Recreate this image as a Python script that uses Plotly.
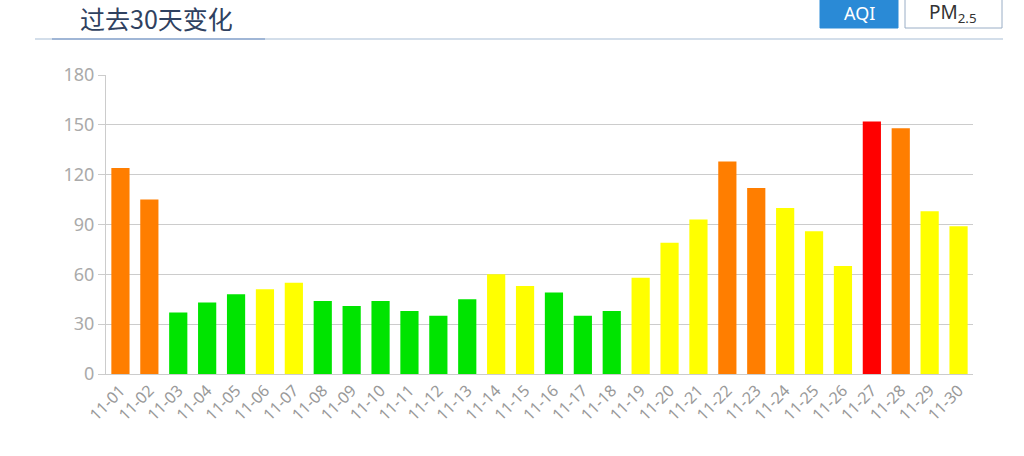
import plotly.graph_objects as go

dates = ["11-%02d" % d for d in range(1, 31)]
aqi = [124, 105, 37, 43, 48, 51, 55, 44, 41, 44, 38, 35, 45, 60, 53, 49, 35, 38, 58, 79,
       93, 128, 112, 100, 86, 65, 152, 148, 98, 89]
levels = ["o", "o", "g", "g", "g", "y", "y", "g", "g", "g", "g", "g", "g", "y", "y", "g", "g", "g", "y", "y",
          "y", "o", "o", "y", "y", "y", "r", "o", "y", "y"]
level_colors = {"g": "#00e400", "y": "#ffff00", "o": "#ff7e00", "r": "#ff0000"}
y_ticks = [0, 30, 60, 90, 120, 150, 180]

W, H = 1024, 456
L, T, R, B = 106, 75, 1024 - 973, 456 - 374
PW, PH = W - L - R, H - T - B


def px(x):
    return (x - L) / PW


def py(y):
    return 1 + (T - y) / PH


fig = go.Figure()
fig.add_trace(go.Bar(x=dates, y=aqi, marker=dict(color=[level_colors[l] for l in levels], line=dict(width=0)),
                     hoverinfo="x+y"))

fig.update_layout(
    width=W, height=H,
    margin=dict(l=L, r=R, t=T, b=B, autoexpand=False),
    paper_bgcolor="white", plot_bgcolor="white",
    bargap=0.37, showlegend=False,
    font=dict(family="Noto Sans, Open Sans, sans-serif", color="#999999"),
    xaxis=dict(type="category", tickangle=-45, tickfont=dict(size=16, color="#999999"), showline=True,
               linecolor="#cccccc", linewidth=1, ticks="", showgrid=False, fixedrange=True, automargin=False),
    yaxis=dict(range=[0, 180], tickvals=y_ticks, tickfont=dict(size=18, color="#aaaaaa"), showline=True,
               linecolor="#cccccc", linewidth=1, ticks="outside", ticklen=7, tickcolor="#cccccc",
               gridcolor="#cccccc", gridwidth=1, zeroline=False, fixedrange=True, automargin=False),
    shapes=[
        dict(type="line", xref="paper", yref="paper", x0=px(35), x1=px(1003), y0=py(39), y1=py(39),
             line=dict(color="#c5d3e3", width=1.5)),
        dict(type="line", xref="paper", yref="paper", x0=px(52), x1=px(265), y0=py(39), y1=py(39),
             line=dict(color="#8fa9cf", width=1.5)),
        dict(type="rect", xref="paper", yref="paper", x0=px(820), x1=px(898), y0=py(28), y1=py(-2),
             fillcolor="#2a8ad6", line=dict(color="#2a8ad6", width=1)),
        dict(type="rect", xref="paper", yref="paper", x0=px(905), x1=px(1002), y0=py(28), y1=py(-2),
             fillcolor="white", line=dict(color="#9aaec6", width=1)),
    ],
    annotations=[
        dict(text="过去30天变化", xref="paper", yref="paper", x=px(78), y=py(18), xanchor="left",
             yanchor="middle", showarrow=False,
             font=dict(family="Noto Sans CJK SC", size=25, color="#2f4160")),
        dict(text="AQI", xref="paper", yref="paper", x=px(859), y=py(13), xanchor="center",
             yanchor="middle", showarrow=False, font=dict(family="Noto Sans", size=18, color="white")),
        dict(text="PM<sub>2.5</sub>", xref="paper", yref="paper", x=px(953), y=py(13),
             xanchor="center", yanchor="middle", showarrow=False,
             font=dict(family="Noto Sans", size=19, color="#333333")),
    ],
)

fig.write_html("out.html", config={"displayModeBar": False},
               post_script="document.body.style.margin='0';")
